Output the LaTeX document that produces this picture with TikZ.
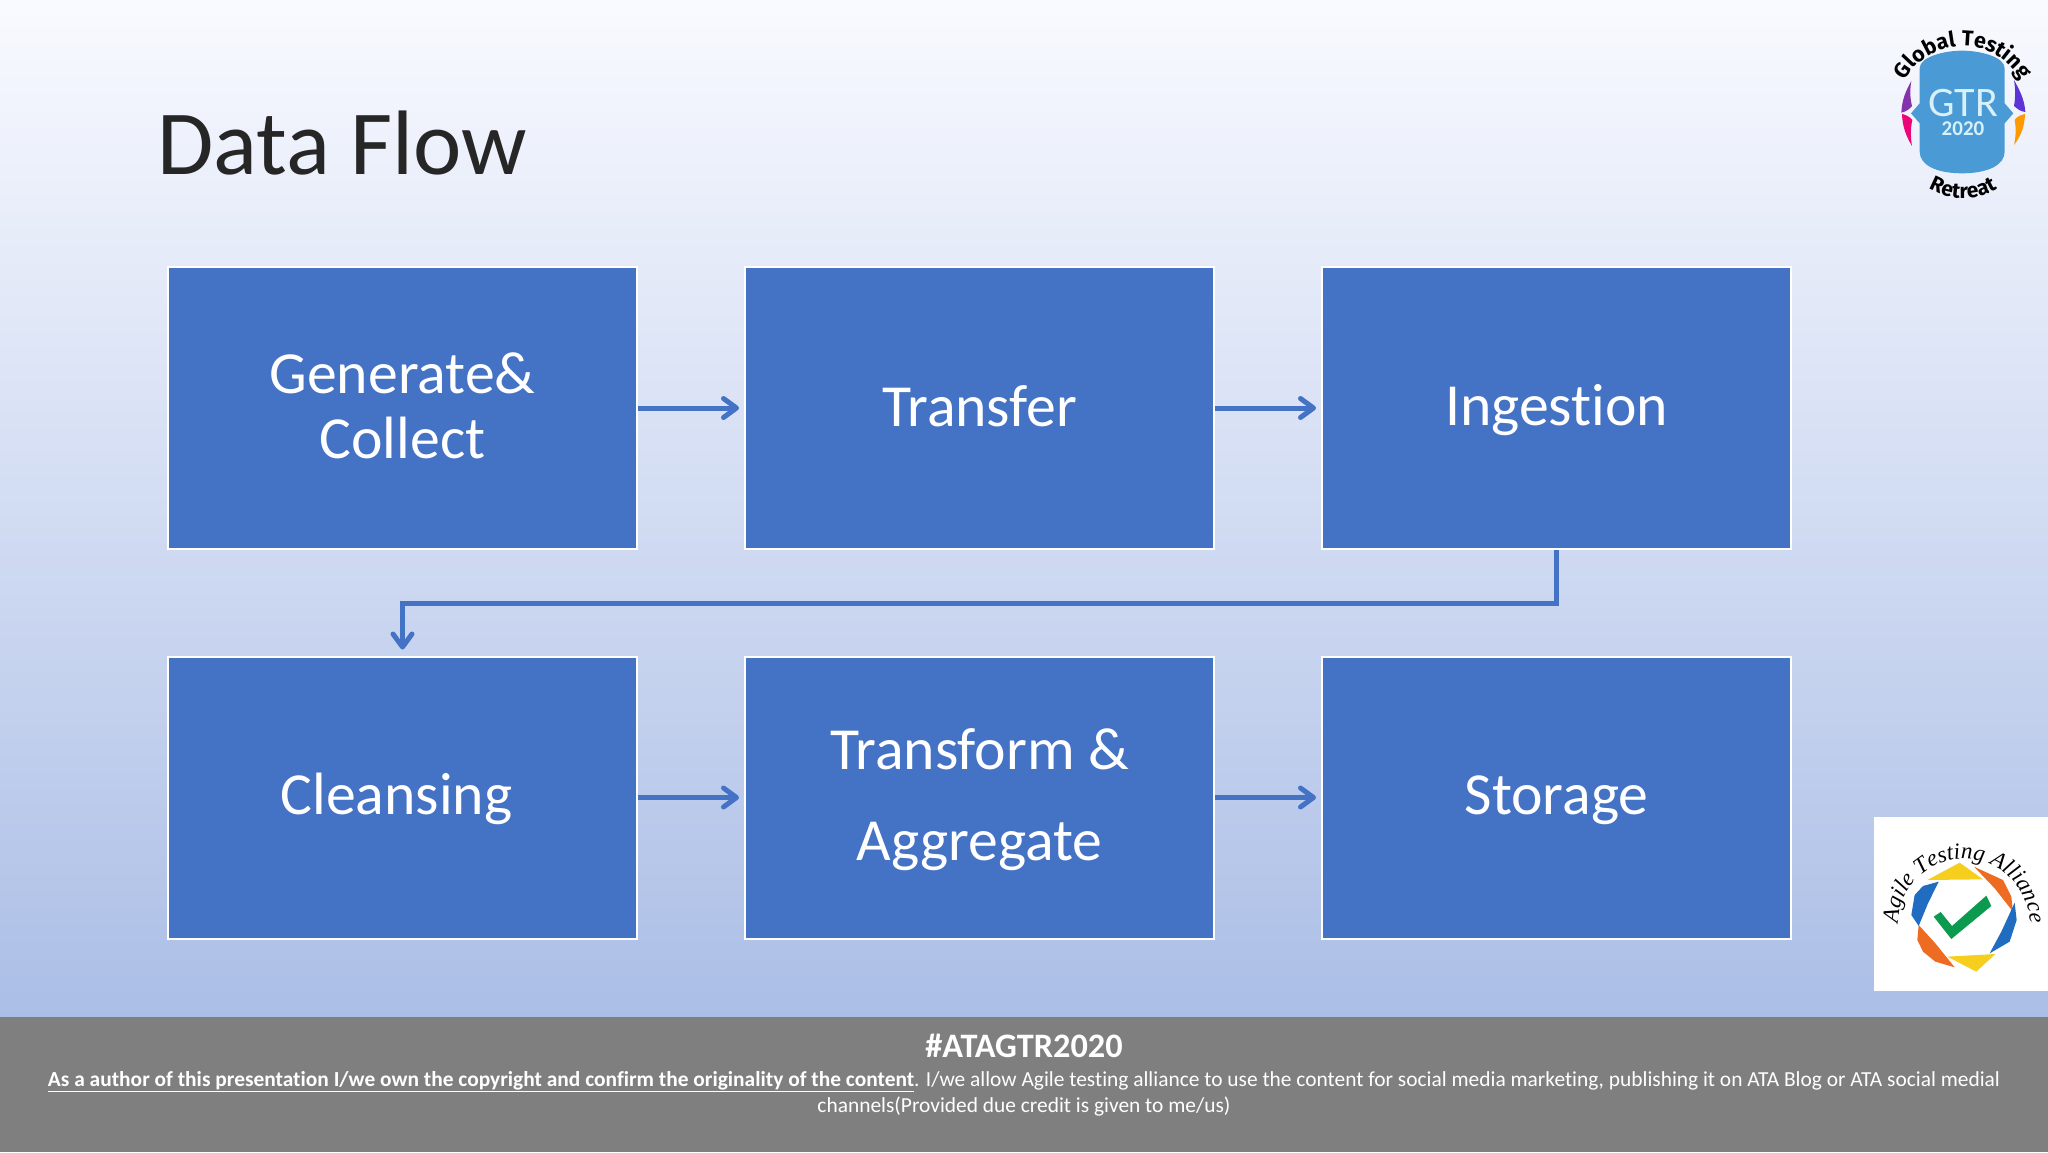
\documentclass[tikz,border=0pt]{standalone}
\usepackage{fontspec}
\setmainfont[Ligatures=NoCommon]{Carlito}
\newfontfamily\logofont{Fira Sans}
\newfontfamily\atafont{Liberation Serif}
\usetikzlibrary{arrows.meta,decorations.text}
\definecolor{boxblue}{HTML}{4472C4}
\definecolor{footgray}{HTML}{7F7F7F}
\definecolor{bgtop}{HTML}{F9FAFF}
\definecolor{bgmid}{HTML}{CAD5EE}
\definecolor{bgbot}{HTML}{ABBEE6}
\definecolor{gtrblue}{HTML}{4A9AD6}
\definecolor{gtrtext}{HTML}{D8F0F8}
\newcommand\lnhi{\rule{0pt}{45pt}}
\newcommand\lnlo{\rule[-9pt]{0pt}{9pt}}
\tikzset{
  stagebox/.style={draw=white,line width=2pt,fill=boxblue,text=white,minimum width=469pt,minimum height=282pt,inner sep=0pt,align=center,font=\fontsize{59.7}{65.6}\selectfont},
  flow/.style={draw=boxblue,line width=5pt,-{Straight Barb[length=13pt,width=19pt,line cap=round,round]}},
  foot/.style={text=white,inner sep=0pt,anchor=base},
}
\begin{document}
\begin{tikzpicture}[x=1pt,y=-1pt]
\useasboundingbox (0,0) rectangle (2048,1152);
\shade[top color=bgtop,middle color=bgmid,bottom color=bgbot] (0,0) rectangle (2048,1018);
\fill[footgray] (0,1017) rectangle (2048,1152);
\node[anchor=base west,inner sep=0pt,text=black!85,font=\fontsize{91.6}{100}\selectfont] (title) at (157,174) {Data Flow};
% boxes
\node[stagebox] (gen) at (402.5,408) {\lnhi Generate\&\\Collect\lnlo};
\node[stagebox] (tra) at (979.5,408) {\lnhi\lnlo Transfer};
\node[stagebox] (ing) at (1556.5,408) {\lnhi\lnlo Ingestion};
\node[stagebox,text width=469pt] (cle) at (402.5,797.5) {\hspace*{-12pt}\lnhi\lnlo Cleansing};
\node[stagebox,font=\fontsize{59.7}{91}\selectfont] (agg) at (979.5,797.5) {\lnhi Transform \&\\Aggregate\lnlo};
\node[stagebox] (sto) at (1556.5,797.5) {\lnhi\lnlo Storage};
% connectors
\draw[flow,shorten >=5pt] (gen.east) -- (tra.west);
\draw[flow,shorten >=5pt] (tra.east) -- (ing.west);
\draw[flow,shorten >=5pt] (cle.east) -- (agg.west);
\draw[flow,shorten >=5pt] (agg.east) -- (sto.west);
\draw[flow,shorten >=6pt] (ing.south) -- ++(0,53) -| (cle.north);
% footer
\node[foot,font=\bfseries\fontsize{34.3}{38}\selectfont] (tag) at (1024,1057) {\#ATAGTR2020};
\node[foot,font=\fontsize{21.41}{24}\selectfont] (l1) at (1024,1086) {\textbf{\underline{As a author of this presentation I/we own the copyright and confirm the originality of the content}}. I/we allow Agile testing alliance to use the content for social media marketing, publishing it on ATA Blog or ATA social medial};
\node[foot,font=\fontsize{21.41}{24}\selectfont] (l2) at (1024,1112) {channels(Provided due credit is given to me/us)};
% GTR logo
\begin{scope}[shift={(1848,0)},x=0.3333pt,y=-0.3333pt]
\fill[gtrblue] (215,205) .. controls (215,170) and (290,152) .. (342,152) .. controls (395,152) and (470,170) .. (470,205)
  -- (470,310) -- (496,340) -- (470,370) -- (470,455) .. controls (470,495) and (420,520) .. (342,520) .. controls (265,520) and (215,495) .. (215,455)
  -- (215,370) -- (189,340) -- (215,310) -- cycle;
\fill[violet!80!blue!80!white] (190,243) .. controls (172,275) and (162,300) .. (160,338) .. controls (175,335) and (187,325) .. (192,318) .. controls (185,290) and (186,265) .. (190,243) -- cycle;
\fill[magenta!80!red] (162,342) .. controls (175,345) and (185,350) .. (193,360) .. controls (187,385) and (188,415) .. (192,438) .. controls (175,410) and (163,380) .. (162,342) -- cycle;
\fill[blue!60!violet!80!white] (498,240) .. controls (515,270) and (530,300) .. (532,336) .. controls (518,335) and (506,325) .. (498,318) .. controls (503,290) and (502,265) .. (498,240) -- cycle;
\fill[orange!80!yellow] (531,342) .. controls (518,345) and (506,350) .. (500,360) .. controls (505,385) and (503,415) .. (498,435) .. controls (518,410) and (530,380) .. (531,342) -- cycle;
\end{scope}
\node[text=gtrtext,inner sep=0pt,font=\fontsize{42}{42}\selectfont] (gtr) at (1963,103) {GTR};
\node[text=gtrtext,inner sep=0pt,font=\bfseries\fontsize{21}{21}\selectfont] (yr) at (1963,129) {2020};
\path[decorate,decoration={text along path,text align=center,text={|\logofont\bfseries\fontsize{21.5}{21.5}\selectfont|Global Testing}}] (1963,112) ++(190:66) arc (190:350:66);
\path[decorate,decoration={text along path,text align=center,text={|\logofont\bfseries\fontsize{21}{21}\selectfont|Retreat}}] (1963,130) ++(135:68) arc (135:45:68);
% ATA logo
\fill[white] (1874,817) rectangle (2048,991);
\begin{scope}[shift={(1848,800)},x=0.3333pt,y=-0.3333pt]
\definecolor{ringyel}{HTML}{F6CE1E}\definecolor{ringora}{HTML}{EE6B22}\definecolor{ringblu}{HTML}{1F6CC0}\definecolor{ringgrn}{HTML}{0B9A4E}
\fill[ringyel] (238,240) -- (335,188) -- (405,238) -- cycle;
\fill[ringora] (378,200) -- (465,240) -- (490,290) -- (495,335) -- (440,265) -- cycle;
\fill[ringblu] (500,308) -- (506,360) -- (485,425) -- (425,460) -- (460,395) -- cycle;
\fill[ringyel] (298,470) -- (442,462) -- (385,515) -- cycle;
\fill[ringora] (212,375) -- (262,430) -- (320,502) -- (262,485) -- (225,455) -- (208,420) -- cycle;
\fill[ringblu] (272,245) -- (240,310) -- (212,378) -- (190,345) -- (200,285) -- (225,258) -- cycle;
\fill[ringgrn] (257,350) -- (278,336) -- (312,378) -- (415,287) -- (430,318) -- (310,417) -- cycle;
\end{scope}
\path[decorate,decoration={text along path,text align=center,text={|\atafont\itshape\fontsize{23}{23}\selectfont|Agile Testing Alliance}}] (1964,925) ++(172:66) arc (172:368:66);
\end{tikzpicture}
\end{document}
